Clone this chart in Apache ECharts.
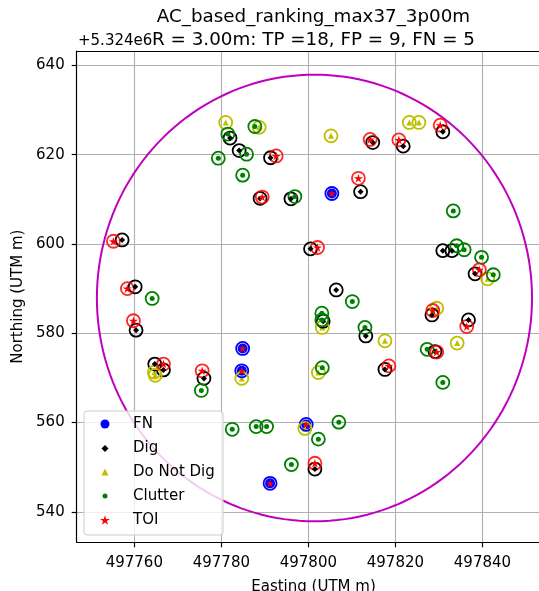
<!DOCTYPE html>
<html><head><meta charset="utf-8">
<script src="https://cdn.jsdelivr.net/npm/echarts@6/dist/echarts.min.js"></script>
<style>html,body{margin:0;padding:0;background:#fff}#c{width:539px;height:591px}</style>
</head><body><div id="c"></div>
<script>
// ---- text ----
const TITLE = 'AC_based_ranking_max37_3p00m';
const SUBTITLE = 'R = 3.00m: TP =18, FP = 9, FN = 5';
const Y_OFFSET_LABEL = '+5.324e6';
const X_NAME = 'Easting (UTM m)';
const Y_NAME = 'Northing (UTM m)';
const LEGEND_NAMES = ['FN', 'Dig', 'Do Not Dig', 'Clutter', 'TOI'];

// ---- tick values (northing shown minus 5.324e6) ----
const X_TICKS = [497760, 497780, 497800, 497820, 497840];
const Y_TICKS = [540, 560, 580, 600, 620, 640];

// ---- data: easting (m), northing - 5324000 (m) ----
const FN_E = [497805.4, 497784.9, 497784.7, 497791.2, 497799.5];
const FN_N = [611.3, 576.6, 571.6, 546.4, 559.6];

const TOI_E = [497792.6, 497789.4, 497755.2, 497758.4, 497814.2, 497820.8, 497830.3, 497811.5, 497802.1,
               497839.3, 497759.8, 497766.7, 497775.6, 497828.6, 497836.4, 497829.5, 497818.5, 497801.5];
const TOI_N = [619.7, 610.5, 600.6, 590.0, 623.4, 623.3, 626.6, 614.7, 599.2,
               594.2, 582.8, 573.1, 571.6, 585.1, 581.5, 575.8, 572.7, 550.9];

const DIG_E = [497782.0, 497784.1, 497791.3, 497788.9, 497796.0, 497757.2, 497760.2, 497814.8, 497821.8,
               497830.9, 497812.0, 497800.5, 497830.9, 497833.0, 497838.3, 497806.4, 497760.4, 497764.7,
               497766.7, 497776.0, 497803.4, 497813.2, 497828.4, 497836.8, 497829.1, 497817.6, 497801.5];
const DIG_N = [623.7, 620.9, 619.3, 610.2, 610.1, 600.9, 590.4, 622.7, 621.9,
               625.1, 611.7, 598.9, 598.5, 598.5, 593.3, 589.7, 580.7, 573.1,
               571.8, 569.9, 582.7, 579.4, 584.1, 583.0, 575.9, 571.9, 549.6];

const CLUTTER_E = [497781.5, 497787.7, 497785.8, 497779.3, 497784.9, 497796.9, 497764.1, 497833.3, 497834.1,
                   497835.8, 497839.8, 497842.5, 497810.1, 497775.4, 497782.5, 497788.0, 497790.4, 497796.1,
                   497803.1, 497803.1, 497813.0, 497827.3, 497830.9, 497803.2, 497807.0, 497802.3];
const CLUTTER_N = [624.6, 626.3, 620.1, 619.2, 615.4, 610.6, 587.8, 607.4, 599.6,
                   598.7, 597.0, 593.1, 587.1, 567.2, 558.5, 559.1, 559.1, 550.6,
                   584.5, 583.0, 581.3, 576.4, 569.0, 572.3, 560.1, 556.3];

const DND_E = [497781.0, 497788.7, 497805.2, 497823.2, 497825.4, 497841.2, 497764.6, 497764.8, 497784.7,
               497803.2, 497817.6, 497829.5, 497834.2, 497802.3, 497799.2];
const DND_N = [627.2, 626.1, 624.2, 627.2, 627.2, 592.2, 571.3, 570.6, 569.9,
               581.3, 578.3, 585.6, 577.8, 571.2, 558.7];

// search-area circle
const CIRCLE_CENTER = [497801.4, 587.9];
const CIRCLE_RADIUS = 50;

// ---- helpers / styles ----
const FONT = 'DejaVu Sans';
const zip = (a, b) => a.map((v, i) => [v, b[i]]);
const STAR = 'path://M50 0 L61.17 34.63 L97.55 34.55 L68.07 55.87 L79.39 90.45 L50 69 L20.61 90.45 L31.93 55.87 L2.45 34.55 L38.83 34.63 Z';
const COL = {fn: '#0000ff', dig: '#000000', dnd: '#bfbf00', clutter: '#008000', toi: '#ff0000', circle: '#bf00bf'};

function ring(name, e, n, color, opacity) {
  return {
    type: 'scatter', name: name, data: zip(e, n), symbol: 'circle', symbolSize: 13,
    itemStyle: {color: 'rgba(0,0,0,0)', borderColor: color, borderWidth: 1.8, opacity: opacity || 1},
    silent: true, z: 3, emphasis: {disabled: true}
  };
}
function marker(name, e, n, symbol, size, color, z) {
  return {
    type: 'scatter', name: name, data: zip(e, n), symbol: symbol, symbolSize: size, symbolKeepAspect: true,
    itemStyle: {color: color, opacity: 1}, silent: true, z: z, emphasis: {disabled: true}
  };
}

const grid = {left: 76.7, top: 51, width: 473.6, height: 491.3};

// legend rows: icon centred at x=105, text starting at x=133
const legendRows = [
  {name: 'FN', size: 9, cy: 424},
  {name: 'Dig', size: 7, cy: 448.5},
  {name: 'Do Not Dig', size: 7, cy: 472},
  {name: 'Clutter', size: 5, cy: 496},
  {name: 'TOI', size: 10, cy: 520}
];
const legends = legendRows.map(r => ({
  data: [r.name], orient: 'vertical', selectedMode: false, padding: 0, z: 60,
  left: 105 - r.size / 2, top: r.cy - 9, itemWidth: r.size, itemHeight: r.size,
  formatter: name => '{s| }' + name,
  textStyle: {fontFamily: FONT, fontSize: 15, color: '#000', lineHeight: 18,
              rich: {s: {width: 23 - r.size / 2, fontSize: 15, lineHeight: 18}}}
}));

const axisLineStyle = {color: '#000', width: 1.2};
const chart = echarts.init(document.getElementById('c'), null, {renderer: 'canvas'});
chart.setOption({
  animation: false,
  backgroundColor: '#fff',
  title: [
    {text: TITLE, left: 313.5, top: 8, textAlign: 'center', padding: 0,
     textStyle: {fontFamily: FONT, fontSize: 18.3, fontWeight: 'normal', color: '#000'}},
    {text: SUBTITLE, left: 313.5, top: 31, textAlign: 'center', padding: 0,
     textStyle: {fontFamily: FONT, fontSize: 18.3, fontWeight: 'normal', color: '#000'}},
    {text: Y_OFFSET_LABEL, left: 78, top: 34, padding: 0,
     textStyle: {fontFamily: FONT, fontSize: 15, fontWeight: 'normal', color: '#000'}}
  ],
  legend: legends,
  grid: Object.assign({show: false, outerBoundsMode: 'none'}, grid),
  xAxis: [{
    type: 'value', min: 497746.76, max: 497855.6, position: 'bottom',
    name: X_NAME, nameLocation: 'middle', nameGap: 37,
    nameTextStyle: {fontFamily: FONT, fontSize: 15, color: '#000'},
    axisLine: {show: true, onZero: false, lineStyle: axisLineStyle},
    axisTick: {show: true, inside: false, length: 5, customValues: X_TICKS, lineStyle: axisLineStyle},
    axisLabel: {customValues: X_TICKS, margin: 13, fontFamily: FONT, fontSize: 15, color: '#000', formatter: v => String(v)},
    splitLine: {show: true, lineStyle: {color: '#b0b0b0', width: 1.1}}
  }, {
    type: 'value', min: 497746.76, max: 497855.6, position: 'top',
    axisLine: {show: true, onZero: false, lineStyle: axisLineStyle},
    axisTick: {show: false}, axisLabel: {show: false}, splitLine: {show: false}
  }],
  yAxis: {
    type: 'value', min: 533.2, max: 643.2,
    name: Y_NAME, nameLocation: 'middle', nameGap: 40, nameRotate: 90,
    nameTextStyle: {fontFamily: FONT, fontSize: 15, color: '#000'},
    axisLine: {show: true, onZero: false, lineStyle: axisLineStyle},
    axisTick: {show: true, inside: false, length: 5, customValues: Y_TICKS, lineStyle: axisLineStyle},
    axisLabel: {customValues: Y_TICKS, margin: 12, fontFamily: FONT, fontSize: 15, color: '#000', formatter: v => String(v)},
    splitLine: {show: true, lineStyle: {color: '#b0b0b0', width: 1.1}}
  },
  graphic: {elements: [
    {type: 'rect', z: 50, silent: true, shape: {x: 84, y: 411, width: 139, height: 124, r: 3},
     style: {fill: 'rgba(255,255,255,0.8)', stroke: '#cccccc', lineWidth: 1}}
  ]},
  series: [
    {
      type: 'custom', name: 'area', data: [[CIRCLE_CENTER[0], CIRCLE_CENTER[1], CIRCLE_RADIUS]],
      encode: {x: 0, y: 1}, clip: true, z: 1, silent: true,
      renderItem: (params, api) => {
        const cx = api.value(0), cy = api.value(1), r = api.value(2);
        const pts = [];
        for (let a = 0; a <= 360; a += 2) {
          const t = a * Math.PI / 180;
          pts.push(api.coord([cx + r * Math.cos(t), cy + r * Math.sin(t)]));
        }
        return {type: 'polyline', shape: {points: pts}, style: {stroke: COL.circle, lineWidth: 2, fill: null}};
      }
    },
    marker('FN', FN_E, FN_N, 'circle', 10, COL.fn, 2),
    marker('Do Not Dig', DND_E, DND_N, 'triangle', 6, COL.dnd, 2),
    ring('FN ring', FN_E, FN_N, COL.fn),
    ring('Dig ring', DIG_E, DIG_N, COL.dig),
    ring('Do Not Dig ring', DND_E, DND_N, COL.dnd),
    ring('Clutter ring', CLUTTER_E, CLUTTER_N, COL.clutter),
    ring('TOI ring', TOI_E, TOI_N, COL.toi, 0.85),
    marker('Dig', DIG_E, DIG_N, 'diamond', 6, COL.dig, 4),
    marker('Clutter', CLUTTER_E, CLUTTER_N, 'circle', 5, COL.clutter, 4),
    marker('TOI', TOI_E, TOI_N, STAR, 9, COL.toi, 5),
    marker('FN star', FN_E, FN_N, STAR, 8, COL.toi, 5)
  ]
});
</script></body></html>
